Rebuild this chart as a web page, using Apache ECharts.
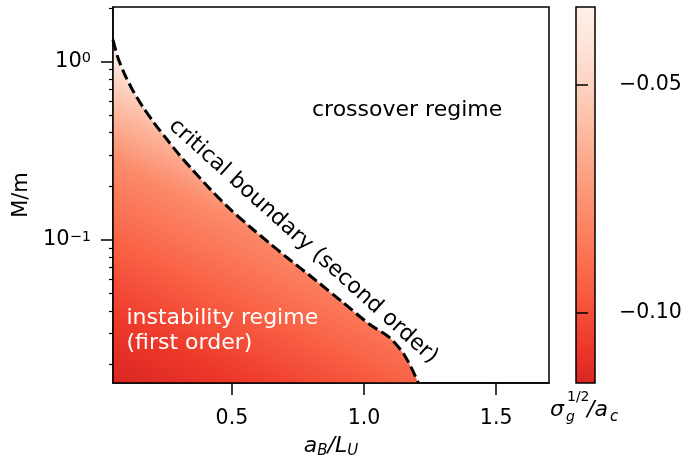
<!DOCTYPE html>
<html>
<head>
<meta charset="utf-8">
<script src="https://cdn.jsdelivr.net/npm/echarts@6/dist/echarts.min.js"></script>
<style>
html, body { margin: 0; padding: 0; background: #fff; }
#chart { width: 689px; height: 459px; }
</style>
</head>
<body>
<div id="chart"></div>
<script>
// critical boundary: a_B/L_U vs M/m
const boundaryX = [0.05, 0.067, 0.092, 0.124, 0.162, 0.206, 0.256, 0.301, 0.346, 0.416, 0.491, 0.567, 0.643, 0.706, 0.820, 0.920, 1.022, 1.097, 1.155, 1.206]
const boundaryY = [1.32, 1.067, 0.861, 0.693, 0.560, 0.452, 0.363, 0.300, 0.252, 0.194, 0.150, 0.119, 0.0958, 0.0803, 0.0590, 0.0447, 0.0336, 0.0284, 0.0224, 0.0158]

// axes
const xRange = [0.05, 1.7]
const xTicks = [0.5, 1.0, 1.5]
const yRange = [0.0158, 2.02]
const yTicks = [0.1, 1]
const yMinorTicks = [0.02, 0.03, 0.04, 0.05, 0.06, 0.07, 0.08, 0.09, 0.2, 0.3, 0.4, 0.5, 0.6, 0.7, 0.8, 0.9, 2]

// colour bar (sigma_g^1/2 / a_c)
const cbRange = [-0.1154, -0.0329]
const cbTicks = [-0.10, -0.05]

const FONT = 'DejaVu Sans'
const REDS = ['#fff5f0', '#fee0d2', '#fcbba1', '#fc9272', '#fb6a4a', '#ef3b2c', '#cb181d', '#a50f15', '#67000d']

function hex(c) {
  return [1, 3, 5].map(i => parseInt(c.slice(i, i + 2), 16))
}
function reds(t) {
  const p = t * 8
  const i = Math.min(7, Math.floor(p))
  const f = p - i
  const a = hex(REDS[i]), b = hex(REDS[i + 1])
  const c = a.map((v, k) => Math.round(v + (b[k] - v) * f))
  return 'rgb(' + c.join(',') + ')'
}

const log10 = Math.log10
const minus = s => String(s).replace('-', '\u2212')

// shading of the instability region
const areaStops = [[0, 0.70], [0.19, 0.63], [0.406, 0.52], [0.635, 0.40], [0.81, 0.23], [0.92, 0.10], [1, 0.03]]
const areaColor = new echarts.graphic.LinearGradient(0, 1, 0.444, 0.1735,
  areaStops.map(s => ({ offset: s[0], color: reds(s[1]) })))

const cbStops = []
for (let k = 0; k <= 10; k++) {
  const o = k / 10
  cbStops.push({ offset: o, color: reds(0.03 + 0.67 * o) })
}

const tickStyle = { color: '#000', width: 1.5 }

const chart = echarts.init(document.getElementById('chart'), null, { renderer: 'canvas' })

const option = {
  animation: false,
  textStyle: { fontFamily: FONT },
  grid: [
    { left: 113, top: 7, width: 436, height: 376, outerBoundsMode: 'none', containLabel: false, show: true, borderColor: '#000', borderWidth: 1.5, backgroundColor: '#fff' },
    { left: 576, top: 7, width: 19, height: 376, outerBoundsMode: 'none', containLabel: false }
  ],
  xAxis: [{
    gridIndex: 0,
    type: 'value',
    min: xRange[0],
    max: xRange[1],
    z: 5,
    axisLine: { show: true, onZero: false, lineStyle: tickStyle },
    axisTick: { show: true, customValues: xTicks, length: 12, lineStyle: tickStyle },
    axisLabel: {
      customValues: xTicks,
      margin: 25,
      fontSize: 20.5,
      color: '#000',
      fontFamily: FONT,
      formatter: v => v.toFixed(1)
    },
    splitLine: { show: false },
    name: '{i|a}{s|B}{i|/L}{s|U}',
    nameLocation: 'middle',
    nameGap: 50,
    nameTextStyle: {
      rich: {
        i: { fontSize: 22, fontStyle: 'italic', fontFamily: FONT, color: '#000', lineHeight: 26 },
        s: { fontSize: 15, fontStyle: 'italic', fontFamily: FONT, color: '#000', verticalAlign: 'bottom', lineHeight: 15 }
      }
    }
  }, {
    gridIndex: 1,
    type: 'value',
    min: 0,
    max: 1,
    show: false
  }],
  yAxis: [{
    gridIndex: 0,
    type: 'value',
    position: 'left',
    min: log10(yRange[0]),
    max: log10(yRange[1]),
    z: 5,
    axisLine: { show: true, onZero: false, lineStyle: tickStyle },
    axisTick: { show: true, customValues: yTicks.map(log10), length: 12, lineStyle: tickStyle },
    axisLabel: {
      customValues: yTicks.map(log10),
      margin: 22,
      color: '#000',
      formatter: v => '{b|10}{s|' + minus(Math.round(v)) + '}',
      rich: {
        b: { fontSize: 21, fontFamily: FONT, color: '#000' },
        s: { fontSize: 14.5, fontFamily: FONT, color: '#000', verticalAlign: 'top' }
      }
    },
    splitLine: { show: false },
    name: 'M/m',
    nameLocation: 'middle',
    nameRotate: 90,
    nameGap: 77,
    nameTextStyle: { fontSize: 21, fontFamily: FONT, color: '#000' }
  }, {
    gridIndex: 0,
    type: 'value',
    position: 'left',
    min: log10(yRange[0]),
    max: log10(yRange[1]),
    z: 5,
    axisLine: { show: false, onZero: false },
    axisTick: { show: true, customValues: yMinorTicks.map(log10), length: 4, lineStyle: { color: '#000', width: 1.2 } },
    axisLabel: { show: false },
    splitLine: { show: false }
  }, {
    gridIndex: 1,
    type: 'value',
    position: 'right',
    min: cbRange[0],
    max: cbRange[1],
    z: 5,
    axisLine: { show: false },
    axisTick: { show: true, customValues: cbTicks, length: 12, lineStyle: tickStyle },
    axisLabel: {
      customValues: cbTicks,
      margin: 24,
      fontSize: 20.5,
      fontFamily: FONT,
      color: '#000',
      formatter: v => minus(v.toFixed(2))
    },
    splitLine: { show: false }
  }],
  series: [{
    type: 'line',
    xAxisIndex: 0,
    yAxisIndex: 0,
    data: boundaryX.map((x, i) => [x, log10(boundaryY[i])]),
    showSymbol: false,
    symbol: 'none',
    smooth: 0.3,
    z: 3,
    lineStyle: { color: '#000', width: 3, type: [11, 4.5] },
    areaStyle: { origin: 'start', opacity: 1, color: areaColor },
    markPoint: {
      symbol: 'circle',
      symbolSize: 0,
      silent: true,
      label: { show: true, position: 'inside', fontSize: 22, fontFamily: FONT, color: '#000' },
      data: [
        { coord: [1.163, log10(0.535)], label: { formatter: 'crossover regime' } },
        { coord: [0.770, log10(0.0981)], label: { formatter: 'critical boundary (second order)', rotate: -42 } },
        { coord: [0.101, log10(0.0309)], label: { formatter: 'instability regime\n(first order)', align: 'left', color: '#fff', lineHeight: 25 } }
      ]
    }
  }, {
    // colour bar
    type: 'custom',
    xAxisIndex: 1,
    yAxisIndex: 2,
    data: [[0, cbRange[0], 1, cbRange[1]]],
    z: 3,
    silent: true,
    renderItem: (params, api) => {
      const p0 = api.coord([api.value(0), api.value(3)])
      const p1 = api.coord([api.value(2), api.value(1)])
      return {
        type: 'rect',
        shape: { x: p0[0], y: p0[1], width: p1[0] - p0[0], height: p1[1] - p0[1] },
        style: {
          fill: new echarts.graphic.LinearGradient(0, 0, 0, 1, cbStops),
          stroke: '#000',
          lineWidth: 1.5
        }
      }
    }
  }],
  graphic: [
    { type: 'text', x: 550, y: 410.5, style: { text: '\u03c3', font: 'italic 22px "DejaVu Sans"', fill: '#000', verticalAlign: 'middle' } },
    { type: 'text', x: 567, y: 397, style: { text: '1/2', font: '14px "DejaVu Sans"', fill: '#000', verticalAlign: 'middle' } },
    { type: 'text', x: 566, y: 417, style: { text: 'g', font: 'italic 14px "DejaVu Sans"', fill: '#000', verticalAlign: 'middle' } },
    { type: 'text', x: 587, y: 410.5, style: { text: '/a', font: 'italic 22px "DejaVu Sans"', fill: '#000', verticalAlign: 'middle' } },
    { type: 'text', x: 610, y: 417, style: { text: 'c', font: 'italic 15px "DejaVu Sans"', fill: '#000', verticalAlign: 'middle' } }
  ]
}

chart.setOption(option)
</script>
</body>
</html>
